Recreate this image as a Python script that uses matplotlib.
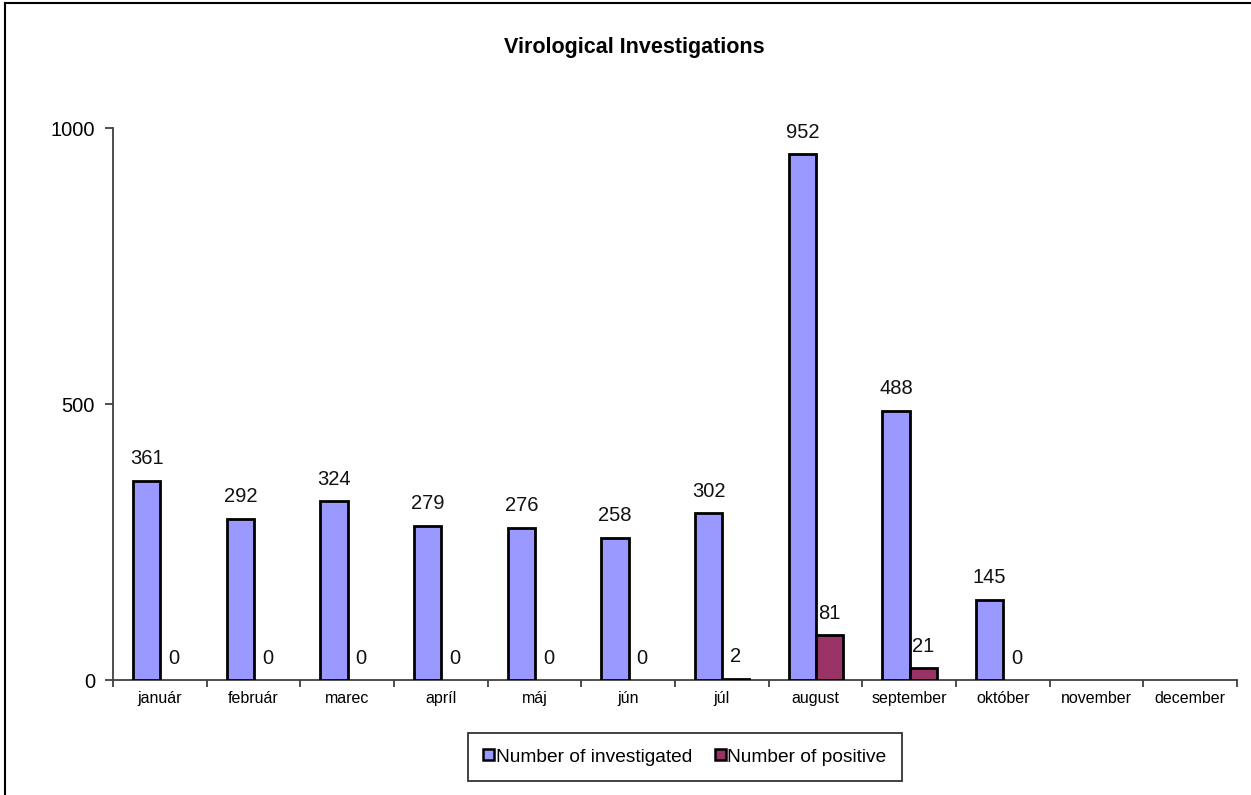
import numpy as np
import matplotlib
matplotlib.use("Agg")
import matplotlib.pyplot as plt
from matplotlib.lines import Line2D

plt.rcParams['font.family'] = ['Liberation Sans', 'DejaVu Sans']

months = ["január", "február", "marec", "apríl", "máj", "jún", "júl",
          "august", "september", "október", "november", "december"]
investigated = [361, 292, 324, 279, 276, 258, 302, 952, 488, 145, np.nan, np.nan]
positive = [0, 0, 0, 0, 0, 0, 2, 81, 21, 0, np.nan, np.nan]
series_names = ["Number of investigated", "Number of positive"]
yticks = [0, 500, 1000]

fig = plt.figure(figsize=(12.51, 7.95), dpi=100)
ax = fig.add_axes([113/1251, 115/795, (1237-113)/1251, (680-128)/795])

x = np.arange(len(months))
w = 0.29
off = 0.005
inv = np.array(investigated, dtype=float)
pos = np.array(positive, dtype=float)

lw_inv = [0 if (np.isnan(v) or v == 0) else 2.0 for v in inv]
lw_pos = [0 if (np.isnan(v) or v == 0) else 2.0 for v in pos]
b1 = ax.bar(x - w/2 + off, np.nan_to_num(inv), w, color="#9999FF", edgecolor="black",
            linewidth=lw_inv, label=series_names[0], zorder=3)
b2 = ax.bar(x + w/2 + off, np.nan_to_num(pos), w, color="#993366", edgecolor="black",
            linewidth=lw_pos, label=series_names[1], zorder=3)

for xs, vals in ((x - w/2 + off, inv), (x + w/2 + off, pos)):
    for xi, v in zip(xs, vals):
        if np.isnan(v):
            continue
        ax.annotate(f"{int(v)}", (xi, v), xytext=(0, 9), textcoords="offset points",
                    ha="center", va="bottom", fontsize=14.5, color="#111111")

ax.set_xlim(-0.5, 11.5)
ax.set_ylim(0, 1000)
ax.set_yticks(yticks)
ax.set_yticklabels([str(t) for t in yticks], fontsize=14.5)
ax.set_xticks(np.arange(-0.5, 12.0, 1.0))
ax.set_xticklabels([])
ax.set_xticks(x, minor=True)
ax.set_xticklabels(months, minor=True, fontsize=11.5)
ax.tick_params(axis="x", which="minor", length=0, pad=8)
ax.tick_params(axis="x", which="major", length=5, width=1.3, color="#404040")
ax.tick_params(axis="y", length=6, width=1.3, color="#404040", pad=7)
for s in ("top", "right"):
    ax.spines[s].set_visible(False)
for s in ("left", "bottom"):
    ax.spines[s].set_color("#404040")
    ax.spines[s].set_linewidth(1.3)

fig.text(634/1251, 1 - 48/795, "Virological Investigations", ha="center", va="center",
         fontsize=15.5, fontweight="bold")

leg = fig.legend(handles=[b1, b2], labels=series_names, loc="center",
                 bbox_to_anchor=(685/1251, 1 - 757/795), ncol=2, fontsize=13.8,
                 handlelength=0.55, handleheight=0.55, handletextpad=0.1,
                 columnspacing=1.2, borderpad=0.8, borderaxespad=0.0,
                 frameon=True, fancybox=False, edgecolor="black")
leg.get_frame().set_linewidth(1.3)
leg._legend_box.sep = 0
for h in leg.legend_handles:
    h.set_linewidth(1.8)
    h.set_edgecolor("black")

fig.add_artist(Line2D([5/1251, 1], [1 - 3/795, 1 - 3/795], transform=fig.transFigure,
                      color="black", linewidth=1.5))
fig.add_artist(Line2D([5/1251, 5/1251], [0, 1 - 3/795], transform=fig.transFigure,
                      color="black", linewidth=1.5))

fig.savefig("out.png", dpi=100)
